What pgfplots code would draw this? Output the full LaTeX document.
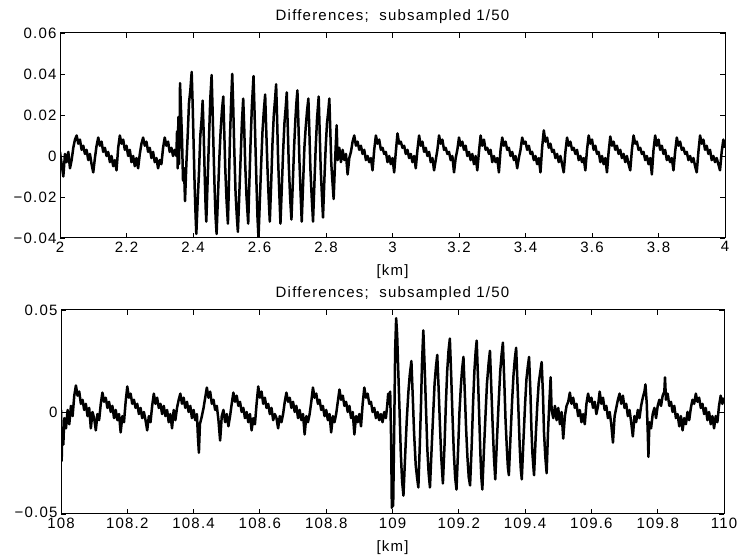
\documentclass[border=0pt]{standalone}
\usepackage{fontspec}
\setmainfont{Liberation Sans}[LetterSpace=8]
\usepackage{pgfplots}
\pgfplotsset{compat=1.18}
\pgfplotsset{
  diffstyle/.style={
    scale only axis,
    axis line style={line width=1pt},
    every tick/.style={black, line width=0.9pt},
    major tick length=5pt,
    tick align=inside,
    tick pos=both,
    xticklabel pos=lower,
    yticklabel pos=left,
    scaled x ticks=false,
    scaled y ticks=false,
    /pgf/number format/assume math mode=true,
    /pgf/number format/fixed,
    tick label style={font=\fontsize{15}{17}\selectfont},
    title={Differences;\ \ subsampled 1/50},
    title style={font=\fontsize{15}{17}\selectfont, at={(0.5,1)}, anchor=base, yshift=6pt},
    xlabel={[km]},
    xlabel style={font=\fontsize{15}{17}\selectfont, at={(axis description cs:0.5,0)}, anchor=north, yshift=-23pt},
  }
}
\begin{document}
\begin{tikzpicture}
\useasboundingbox (0,0) rectangle (739pt,556pt);
% ---------------- top axis ----------------
\begin{axis}[diffstyle,
  at={(60pt,318pt)}, anchor=south west,
  width=665pt, height=205pt,
  xmin=2, xmax=4, ymin=-0.04, ymax=0.06,
  xtick={2,2.2,2.4,2.6,2.8,3,3.2,3.4,3.6,3.8,4},
  xticklabels={2,2.2,2.4,2.6,2.8,3,3.2,3.4,3.6,3.8,4},
  ytick={-0.04,-0.02,0,0.02,0.04,0.06},
  yticklabels={−0.04,−0.02,0,0.02,0.04,0.06},
]
\addplot[black, line width=2.5pt, line join=round] table {
x y
2.000 0.002
2.005 -0.004
2.010 -0.010
2.015 0.001
2.020 -0.003
2.025 0.002
2.030 -0.006
2.035 -0.002
2.040 0.004
2.045 0.008
2.050 0.010
2.055 0.006
2.060 0.008
2.065 0.003
2.070 0.005
2.075 0.001
2.080 0.003
2.085 -0.002
2.090 0.001
2.095 -0.004
2.100 -0.008
2.105 -0.001
2.110 0.005
2.115 0.009
2.120 0.005
2.125 0.007
2.130 0.002
2.135 0.004
2.140 0.000
2.145 0.002
2.150 -0.003
2.155 0.000
2.160 -0.005
2.165 -0.002
2.170 -0.007
2.175 0.004
2.180 0.010
2.185 0.006
2.190 0.008
2.195 0.003
2.200 0.005
2.205 0.000
2.210 0.003
2.215 -0.003
2.220 0.000
2.225 -0.005
2.230 -0.001
2.235 -0.006
2.240 0.001
2.245 0.006
2.250 0.009
2.255 0.005
2.260 0.007
2.265 0.002
2.270 0.004
2.275 -0.001
2.280 0.002
2.285 -0.003
2.290 -0.001
2.295 -0.006
2.300 -0.002
2.305 -0.004
2.310 0.004
2.315 0.009
2.320 0.005
2.325 0.007
2.330 0.002
2.335 0.004
2.340 0.000
2.345 0.003
2.350 0.000
2.352 0.012
2.354 -0.006
2.356 0.019
2.358 -0.004
2.360 0.016
2.361 0.0355
2.364 0.022
2.367 0.008
2.370 -0.012
2.373 -0.006
2.376 -0.022
2.380 -0.004
2.384 0.010
2.388 0.026
2.392 0.032
2.396 0.041
2.399 0.025
2.402 0.005
2.405 -0.015
2.408 -0.030
2.410 -0.038
2.414 -0.022
2.418 -0.008
2.422 0.010
2.426 0.018
2.429 0.027
2.432 0.012
2.435 -0.008
2.438 -0.025
2.440 -0.032
2.444 -0.012
2.448 0.008
2.452 0.028
2.456 0.0395
2.459 0.022
2.462 0.002
2.465 -0.016
2.468 -0.030
2.471 -0.038
2.475 -0.020
2.479 -0.002
2.483 0.012
2.487 0.022
2.491 0.029
2.494 0.012
2.497 -0.006
2.501 -0.022
2.505 -0.033
2.508 -0.014
2.511 0.008
2.515 0.028
2.518 0.040
2.521 0.024
2.524 0.004
2.528 -0.018
2.532 -0.030
2.535 -0.037
2.539 -0.020
2.543 -0.002
2.547 0.016
2.551 0.028
2.554 0.014
2.557 -0.004
2.561 -0.020
2.566 -0.033
2.569 -0.016
2.573 0.006
2.577 0.024
2.582 0.039
2.585 0.022
2.588 0.004
2.591 -0.014
2.594 -0.030
2.597 -0.040
2.601 -0.022
2.605 -0.004
2.609 0.012
2.613 0.022
2.617 0.030
2.620 0.014
2.624 -0.006
2.628 -0.022
2.631 -0.032
2.635 -0.014
2.639 0.006
2.643 0.020
2.647 0.028
2.650 0.035
2.653 0.018
2.656 -0.002
2.660 -0.020
2.663 -0.033
2.667 -0.016
2.671 0.002
2.675 0.016
2.679 0.024
2.682 0.031
2.685 0.014
2.688 -0.004
2.692 -0.020
2.696 -0.031
2.700 -0.014
2.704 0.004
2.708 0.018
2.711 0.026
2.714 0.032
2.717 0.016
2.720 -0.002
2.724 -0.020
2.727 -0.032
2.731 -0.014
2.735 0.004
2.739 0.014
2.743 0.022
2.747 0.028
2.750 0.012
2.753 -0.006
2.757 -0.020
2.761 -0.032
2.765 -0.014
2.769 0.004
2.773 0.018
2.778 0.029
2.781 0.012
2.784 -0.006
2.788 -0.020
2.791 -0.030
2.795 -0.012
2.799 0.004
2.803 0.016
2.807 0.022
2.810 0.028
2.813 0.012
2.816 -0.004
2.820 -0.014
2.823 -0.021
2.826 -0.008
2.829 0.004
2.832 0.015
2.835 -0.002
2.840 0.004
2.845 -0.003
2.850 0.003
2.855 -0.002
2.860 0.001
2.865 -0.009
2.870 -0.001
2.875 0.002
2.880 0.007
2.885 0.010
2.890 0.005
2.895 0.007
2.900 0.003
2.905 0.005
2.910 0.001
2.915 0.003
2.920 -0.002
2.925 0.000
2.930 -0.003
2.935 -0.001
2.940 -0.007
2.945 0.003
2.950 0.010
2.955 0.006
2.960 0.008
2.965 0.003
2.970 0.004
2.975 0.001
2.980 0.002
2.985 -0.003
2.990 0.000
2.995 -0.004
3.000 -0.001
3.005 -0.008
3.010 0.002
3.015 0.011
3.020 0.006
3.025 0.007
3.030 0.004
3.035 0.005
3.040 0.001
3.045 0.003
3.050 -0.001
3.055 0.001
3.060 -0.003
3.065 0.000
3.070 -0.006
3.075 0.003
3.080 0.010
3.085 0.005
3.090 0.007
3.095 0.002
3.100 0.004
3.105 0.000
3.110 0.002
3.115 -0.003
3.120 -0.001
3.125 -0.007
3.130 -0.002
3.135 0.003
3.140 0.010
3.145 0.006
3.150 0.008
3.155 0.003
3.160 0.004
3.165 0.001
3.170 0.002
3.175 -0.002
3.180 0.000
3.185 -0.008
3.190 -0.001
3.195 0.003
3.200 0.009
3.205 0.005
3.210 0.007
3.215 0.003
3.220 0.005
3.225 0.000
3.230 0.002
3.235 -0.002
3.240 0.001
3.245 -0.004
3.250 0.000
3.255 -0.007
3.260 0.002
3.265 0.010
3.270 0.005
3.275 0.008
3.280 0.003
3.285 0.004
3.290 0.001
3.295 0.003
3.300 -0.003
3.305 0.000
3.310 -0.003
3.315 -0.001
3.320 -0.008
3.325 0.003
3.330 0.009
3.335 0.005
3.340 0.007
3.345 0.003
3.350 0.004
3.355 0.000
3.360 0.002
3.365 -0.002
3.370 0.000
3.375 -0.006
3.380 -0.001
3.385 0.003
3.390 0.009
3.395 0.006
3.400 0.007
3.405 0.003
3.410 0.005
3.415 0.001
3.420 0.002
3.425 -0.002
3.430 0.000
3.435 -0.004
3.440 -0.001
3.445 -0.008
3.450 0.004
3.455 0.0125
3.460 0.007
3.465 0.009
3.470 0.004
3.475 0.006
3.480 0.002
3.485 0.003
3.490 -0.001
3.495 0.001
3.500 -0.003
3.505 0.000
3.510 -0.004
3.515 -0.008
3.520 0.002
3.525 0.009
3.530 0.005
3.535 0.007
3.540 0.003
3.545 0.004
3.550 0.001
3.555 0.003
3.560 -0.002
3.565 0.000
3.570 -0.003
3.575 -0.001
3.580 -0.007
3.585 0.003
3.590 0.010
3.595 0.006
3.600 0.008
3.605 0.003
3.610 0.005
3.615 0.001
3.620 0.002
3.625 -0.003
3.630 0.000
3.635 -0.004
3.640 -0.001
3.645 -0.008
3.650 0.002
3.655 0.0095
3.660 0.005
3.665 0.007
3.670 0.003
3.675 0.005
3.680 0.001
3.685 0.003
3.690 -0.001
3.695 0.001
3.700 -0.003
3.705 0.000
3.710 -0.004
3.715 -0.007
3.720 0.003
3.725 0.010
3.730 0.006
3.735 0.007
3.740 0.003
3.745 0.004
3.750 0.001
3.755 0.002
3.760 -0.002
3.765 0.000
3.770 -0.004
3.775 -0.001
3.780 -0.009
3.785 0.003
3.790 0.010
3.795 0.005
3.800 0.008
3.805 0.003
3.810 0.005
3.815 0.001
3.820 0.003
3.825 -0.002
3.830 0.000
3.835 -0.003
3.840 -0.001
3.845 -0.007
3.850 0.002
3.855 0.009
3.860 0.005
3.865 0.007
3.870 0.003
3.875 0.004
3.880 0.001
3.885 0.002
3.890 -0.002
3.895 0.000
3.900 -0.003
3.905 -0.001
3.910 -0.005
3.915 -0.008
3.920 0.002
3.925 0.010
3.930 0.006
3.935 0.008
3.940 0.003
3.945 0.005
3.950 0.001
3.955 0.003
3.960 -0.002
3.965 0.000
3.970 -0.003
3.975 -0.001
3.980 -0.004
3.985 -0.007
3.990 0.002
3.995 0.008
4.000 0.004
};
\end{axis}
% ---------------- bottom axis ----------------
\begin{axis}[diffstyle,
  at={(61pt,42pt)}, anchor=south west,
  width=663pt, height=204pt,
  xmin=108, xmax=110, ymin=-0.05, ymax=0.05,
  xtick={108,108.2,108.4,108.6,108.8,109,109.2,109.4,109.6,109.8,110},
  xticklabels={108,108.2,108.4,108.6,108.8,109,109.2,109.4,109.6,109.8,110},
  ytick={-0.05,0,0.05},
  yticklabels={\raisebox{3pt}{−0.05},0,0.05},
]
\addplot[black, line width=2.5pt, line join=round] table {
x y
108.000 0.001
108.002 -0.024
108.004 -0.008
108.007 -0.016
108.010 -0.003
108.015 -0.008
108.020 0.001
108.025 -0.006
108.030 0.003
108.035 -0.002
108.040 0.008
108.045 0.013
108.050 0.008
108.055 0.010
108.060 0.004
108.065 0.006
108.070 0.001
108.075 0.004
108.080 -0.002
108.085 0.002
108.090 -0.008
108.095 0.000
108.100 -0.003
108.105 -0.009
108.110 -0.001
108.115 -0.004
108.120 0.004
108.125 0.0095
108.130 0.005
108.135 0.007
108.140 0.002
108.145 0.005
108.150 0.000
108.155 0.003
108.160 -0.003
108.165 0.001
108.170 -0.004
108.175 -0.001
108.180 -0.010
108.185 -0.002
108.190 -0.005
108.195 0.005
108.200 0.0125
108.205 0.007
108.210 0.009
108.215 0.004
108.220 0.006
108.225 0.002
108.230 0.004
108.235 -0.001
108.240 0.002
108.245 -0.003
108.250 0.000
108.255 -0.004
108.260 -0.009
108.265 -0.002
108.270 -0.005
108.275 0.003
108.280 0.009
108.285 0.004
108.290 0.007
108.295 0.002
108.300 0.004
108.305 -0.001
108.310 0.003
108.315 -0.002
108.320 0.001
108.325 -0.005
108.330 -0.001
108.335 -0.008
108.340 0.001
108.345 -0.004
108.350 0.002
108.355 0.006
108.360 0.009
108.365 0.004
108.370 0.007
108.375 0.002
108.380 0.005
108.385 0.000
108.390 0.003
108.395 -0.003
108.400 0.001
108.405 -0.004
108.410 -0.001
108.413 -0.012
108.416 -0.020
108.419 -0.006
108.425 -0.002
108.430 0.002
108.435 0.007
108.440 0.012
108.445 0.007
108.450 0.010
108.455 0.004
108.460 0.006
108.465 0.001
108.470 0.003
108.475 -0.004
108.480 -0.014
108.485 -0.002
108.490 0.001
108.495 -0.005
108.500 -0.001
108.505 -0.007
108.510 -0.002
108.515 0.004
108.520 0.0095
108.525 0.005
108.530 0.008
108.535 0.003
108.540 0.005
108.545 0.000
108.550 0.002
108.555 -0.003
108.560 0.000
108.565 -0.005
108.570 -0.001
108.575 -0.009
108.580 -0.003
108.585 -0.006
108.590 0.004
108.595 0.0125
108.600 0.007
108.605 0.010
108.610 0.004
108.615 0.007
108.620 0.002
108.625 0.004
108.630 -0.001
108.635 0.002
108.640 -0.004
108.645 -0.001
108.650 -0.003
108.655 -0.008
108.660 -0.002
108.665 -0.005
108.670 -0.001
108.675 0.005
108.680 0.0095
108.685 0.005
108.690 0.007
108.695 0.002
108.700 0.005
108.705 0.000
108.710 0.003
108.715 -0.003
108.720 0.001
108.725 -0.004
108.730 -0.001
108.735 -0.011
108.740 -0.002
108.745 -0.005
108.750 -0.001
108.755 0.005
108.760 0.012
108.765 0.007
108.770 0.009
108.775 0.004
108.780 0.006
108.785 0.001
108.790 0.003
108.795 -0.002
108.800 0.001
108.805 -0.004
108.810 -0.001
108.815 -0.010
108.820 -0.002
108.825 -0.005
108.830 -0.001
108.835 0.005
108.840 0.011
108.845 0.006
108.850 0.008
108.855 0.003
108.860 0.005
108.865 0.000
108.870 0.003
108.875 -0.003
108.880 0.000
108.885 -0.011
108.890 -0.002
108.895 -0.005
108.900 -0.001
108.905 -0.007
108.910 0.004
108.915 0.012
108.920 0.007
108.925 0.009
108.930 0.004
108.935 0.005
108.940 0.000
108.945 0.002
108.950 -0.003
108.955 0.000
108.960 -0.004
108.965 -0.001
108.970 -0.005
108.975 0.000
108.980 -0.003
108.984 0.003
108.987 0.009
108.990 0.004
108.993 0.010
108.996 -0.015
108.998 -0.047
109.000 -0.028
109.002 -0.046
109.005 -0.010
109.008 0.030
109.011 0.046
109.014 0.038
109.017 0.022
109.021 0.002
109.025 -0.020
109.029 -0.034
109.033 -0.041
109.038 -0.022
109.043 -0.004
109.048 0.010
109.052 0.018
109.057 0.025
109.061 0.008
109.065 -0.010
109.070 -0.026
109.074 -0.032
109.078 -0.037
109.082 -0.018
109.086 0.004
109.089 0.024
109.093 0.040
109.097 0.022
109.101 0.002
109.105 -0.018
109.109 -0.030
109.113 -0.037
109.118 -0.018
109.123 0.000
109.127 0.014
109.131 0.022
109.135 0.028
109.139 0.012
109.143 -0.006
109.147 -0.022
109.152 -0.035
109.157 -0.016
109.161 0.004
109.165 0.020
109.169 0.030
109.173 0.036
109.177 0.018
109.181 -0.002
109.185 -0.020
109.189 -0.032
109.193 -0.038
109.198 -0.018
109.202 0.000
109.206 0.012
109.210 0.021
109.214 0.027
109.218 0.010
109.222 -0.008
109.226 -0.022
109.230 -0.032
109.234 -0.036
109.239 -0.016
109.243 0.004
109.247 0.020
109.251 0.030
109.254 0.035
109.258 0.016
109.262 -0.004
109.265 -0.020
109.268 -0.032
109.271 -0.038
109.276 -0.018
109.281 0.000
109.285 0.014
109.290 0.024
109.294 0.030
109.298 0.012
109.302 -0.006
109.306 -0.022
109.310 -0.033
109.315 -0.014
109.320 0.004
109.325 0.020
109.329 0.028
109.333 0.034
109.337 0.016
109.341 -0.004
109.345 -0.018
109.348 -0.027
109.351 -0.031
109.356 -0.012
109.361 0.006
109.365 0.018
109.369 0.026
109.373 0.0315
109.377 0.014
109.381 -0.004
109.384 -0.018
109.387 -0.028
109.390 -0.033
109.395 -0.014
109.400 0.004
109.404 0.016
109.408 0.022
109.412 0.027
109.416 0.010
109.419 -0.008
109.422 -0.020
109.425 -0.027
109.427 -0.031
109.432 -0.012
109.437 0.004
109.441 0.014
109.446 0.020
109.450 0.0245
109.454 0.008
109.457 -0.010
109.461 -0.022
109.465 -0.030
109.469 -0.010
109.473 0.004
109.477 0.017
109.480 0.001
109.485 -0.003
109.490 0.003
109.495 -0.004
109.500 0.002
109.505 -0.006
109.510 0.000
109.515 -0.013
109.520 -0.002
109.525 0.003
109.530 0.005
109.535 0.0095
109.540 0.004
109.545 0.007
109.550 0.002
109.555 0.004
109.560 -0.002
109.565 0.001
109.570 -0.005
109.575 -0.001
109.580 -0.006
109.585 0.004
109.590 0.009
109.595 0.005
109.600 0.007
109.605 0.002
109.610 0.005
109.615 -0.001
109.620 0.003
109.625 0.010
109.630 0.004
109.635 0.007
109.640 0.001
109.645 0.003
109.650 -0.003
109.655 0.000
109.660 -0.006
109.665 -0.015
109.670 -0.002
109.675 0.002
109.680 0.006
109.685 0.009
109.690 0.004
109.695 0.008
109.700 0.002
109.705 0.004
109.710 -0.002
109.715 0.001
109.720 -0.005
109.725 -0.012
109.730 -0.002
109.735 -0.005
109.740 0.001
109.745 -0.003
109.750 0.003
109.755 0.007
109.760 0.010
109.763 0.0135
109.767 0.004
109.770 -0.010
109.772 -0.022
109.775 -0.005
109.780 -0.008
109.785 -0.001
109.790 0.002
109.795 -0.003
109.800 0.003
109.805 0.006
109.810 0.003
109.815 0.008
109.820 0.010
109.822 0.017
109.825 0.006
109.830 0.009
109.835 0.003
109.840 0.005
109.845 0.000
109.850 0.003
109.855 -0.003
109.860 -0.001
109.865 -0.007
109.870 -0.002
109.875 -0.009
109.880 -0.003
109.885 -0.006
109.890 0.000
109.895 -0.004
109.900 0.002
109.905 0.006
109.910 0.004
109.915 0.009
109.920 0.005
109.925 0.007
109.930 0.002
109.935 0.004
109.940 -0.001
109.945 0.002
109.950 -0.004
109.955 0.000
109.960 -0.006
109.965 -0.002
109.970 -0.008
109.975 -0.002
109.980 -0.005
109.985 0.003
109.990 0.008
109.995 0.004
110.000 0.007
};
\end{axis}
\end{tikzpicture}
\end{document}
